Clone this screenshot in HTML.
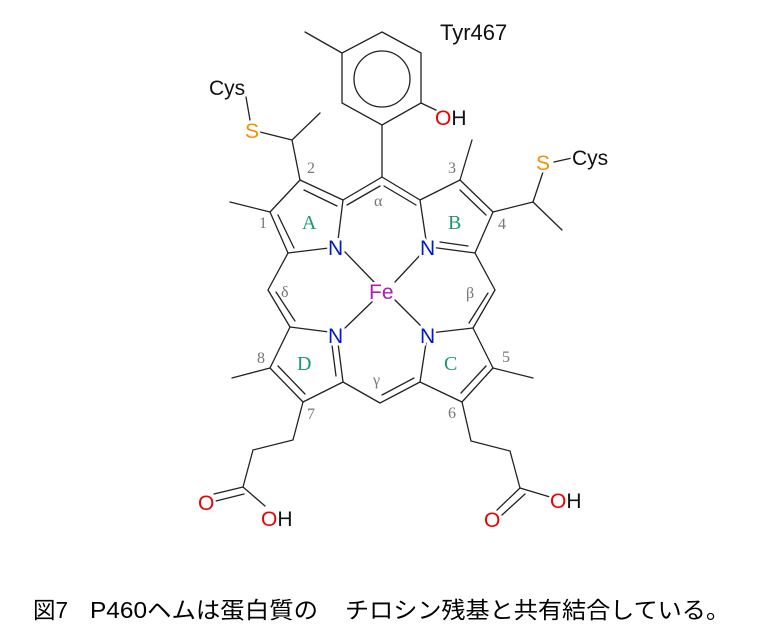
<!DOCTYPE html>
<html><head><meta charset="utf-8"><style>
html,body{margin:0;padding:0;background:#fff;}
svg{display:block;}
.b{stroke:#222;stroke-width:1.3;fill:none;stroke-linecap:round;}
.t{font-family:"Liberation Sans",sans-serif;font-size:21px;paint-order:stroke;stroke:#fff;stroke-width:5px;}
.g{font-family:"Liberation Serif",serif;font-size:16px;fill:#777;}
.r{font-family:"Liberation Serif",serif;font-size:20px;fill:#1a9a6a;}
.c{font-family:"Liberation Sans","Noto Sans CJK JP",sans-serif;font-size:23px;fill:#000;}
</style></head><body>
<svg width="757" height="638" viewBox="0 0 757 638" xmlns="http://www.w3.org/2000/svg">
<g class="b">
<polygon points="382,32 421,53 421,103 382,125 342,103 342,53"/>
<circle cx="382" cy="79" r="28"/>
<line x1="342" y1="53" x2="305" y2="32"/>
<line x1="421" y1="103" x2="440" y2="112"/>
<line x1="382" y1="125" x2="382" y2="177"/>
<line x1="382" y1="177" x2="343" y2="200"/><line x1="380" y1="186" x2="347" y2="205"/>
<line x1="382" y1="177" x2="420" y2="200"/><line x1="384" y1="186" x2="416" y2="205"/>
<line x1="343" y1="200" x2="300" y2="180"/><line x1="337" y1="206" x2="304" y2="190"/>
<line x1="300" y1="180" x2="270" y2="212"/>
<line x1="270" y1="212" x2="288" y2="253"/><line x1="278" y1="215" x2="294" y2="248"/>
<line x1="288" y1="253" x2="337" y2="247"/>
<line x1="343" y1="200" x2="338" y2="240"/>
<line x1="270" y1="212" x2="230" y2="202"/>
<line x1="300" y1="180" x2="292" y2="140"/>
<line x1="292" y1="140" x2="260" y2="132"/>
<line x1="292" y1="140" x2="320" y2="113"/>
<line x1="250" y1="120" x2="246" y2="97"/>
<line x1="420" y1="200" x2="460" y2="180"/>
<line x1="460" y1="180" x2="493" y2="212"/><line x1="460" y1="190" x2="486" y2="215"/>
<line x1="493" y1="212" x2="475" y2="253"/>
<line x1="475" y1="253" x2="430" y2="247"/><line x1="468" y1="246" x2="440" y2="242"/>
<line x1="420" y1="200" x2="426" y2="240"/>
<line x1="460" y1="180" x2="472" y2="140"/>
<line x1="493" y1="212" x2="533" y2="202"/>
<line x1="533" y1="202" x2="562" y2="230"/>
<line x1="533" y1="202" x2="543" y2="172"/>
<line x1="554" y1="162" x2="572" y2="158"/>
<line x1="475" y1="253" x2="495" y2="290"/>
<line x1="495" y1="290" x2="473" y2="328"/><line x1="488" y1="293" x2="469" y2="323"/>
<line x1="288" y1="253" x2="268" y2="290"/>
<line x1="268" y1="290" x2="290" y2="327"/><line x1="276" y1="292" x2="295" y2="321"/>
<line x1="290" y1="327" x2="337" y2="333"/>
<line x1="290" y1="327" x2="270" y2="368"/>
<line x1="270" y1="368" x2="303" y2="402"/><line x1="278" y1="366" x2="305" y2="394"/>
<line x1="303" y1="402" x2="343" y2="382"/>
<line x1="343" y1="382" x2="338" y2="343"/><line x1="336" y1="376" x2="332" y2="345"/>
<line x1="270" y1="368" x2="232" y2="378"/>
<line x1="343" y1="382" x2="380" y2="403"/>
<line x1="380" y1="403" x2="420" y2="382"/><line x1="382" y1="395" x2="414" y2="378"/>
<line x1="420" y1="382" x2="426" y2="343"/>
<line x1="430" y1="333" x2="473" y2="328"/>
<line x1="473" y1="328" x2="493" y2="368"/>
<line x1="493" y1="368" x2="462" y2="402"/><line x1="486" y1="366" x2="461" y2="393"/>
<line x1="462" y1="402" x2="420" y2="382"/>
<line x1="493" y1="368" x2="533" y2="378"/>
<line x1="345" y1="252" x2="374" y2="282"/>
<line x1="423" y1="252" x2="395" y2="282"/>
<line x1="345" y1="328" x2="374" y2="300"/>
<line x1="423" y1="328" x2="395" y2="300"/>
<polyline points="303,402 293,440 253,450 243,487"/>
<line x1="243" y1="487" x2="214" y2="494"/><line x1="244" y1="494" x2="216" y2="501"/>
<line x1="243" y1="487" x2="265" y2="506"/>
<polyline points="462,402 471,441 510,451 520,488"/>
<line x1="520" y1="488" x2="497" y2="510"/><line x1="525" y1="494" x2="502" y2="515"/>
<line x1="520" y1="488" x2="550" y2="497"/>
</g>
<g class="t">
<text x="440" y="40" font-size="22" fill="#111">Tyr467</text>
<text x="435" y="125" fill="#e00">O<tspan fill="#111">H</tspan></text>
<text x="209" y="95" fill="#111">Cys</text>
<text x="245" y="138" fill="#f39200">S</text>
<text x="536" y="170" fill="#f39200">S</text>
<text x="572" y="165" fill="#111">Cys</text>
<text x="328" y="255" fill="#0018d0">N</text>
<text x="420" y="255" fill="#0018d0">N</text>
<text x="328" y="343" fill="#0018d0">N</text>
<text x="420" y="343" fill="#0018d0">N</text>
<text x="369" y="299" fill="#b21ab8">Fe</text>
<text x="198" y="510" fill="#e00">O</text>
<text x="261" y="526" fill="#e00">O<tspan fill="#111">H</tspan></text>
<text x="484" y="527" fill="#e00">O</text>
<text x="550" y="508" fill="#e00">O<tspan fill="#111">H</tspan></text>
</g>
<text class="g" x="307" y="173">2</text>
<text class="g" x="259" y="228">1</text>
<text class="g" x="448" y="173">3</text>
<text class="g" x="498" y="229">4</text>
<text class="g" x="257" y="363">8</text>
<text class="g" x="307" y="419">7</text>
<text class="g" x="502" y="362">5</text>
<text class="g" x="448" y="418">6</text>
<text class="g" x="374" y="206" font-size="22">α</text>
<text class="g" x="281" y="297" font-size="22">δ</text>
<text class="g" x="466" y="298" font-size="22">β</text>
<text class="g" x="373" y="385" font-size="22">γ</text>
<text class="r" x="302" y="229">A</text>
<text class="r" x="448" y="229">B</text>
<text class="r" x="297" y="370">D</text>
<text class="r" x="444" y="370">C</text>
<text class="c" x="33" y="618" textLength="35" lengthAdjust="spacingAndGlyphs">図7</text>
<text class="c" x="90" y="618" textLength="228" lengthAdjust="spacingAndGlyphs">P460ヘムは蛋白質の</text>
<text class="c" x="345" y="618" textLength="385" lengthAdjust="spacingAndGlyphs">チロシン残基と共有結合している。</text>
</svg>
</body></html>
